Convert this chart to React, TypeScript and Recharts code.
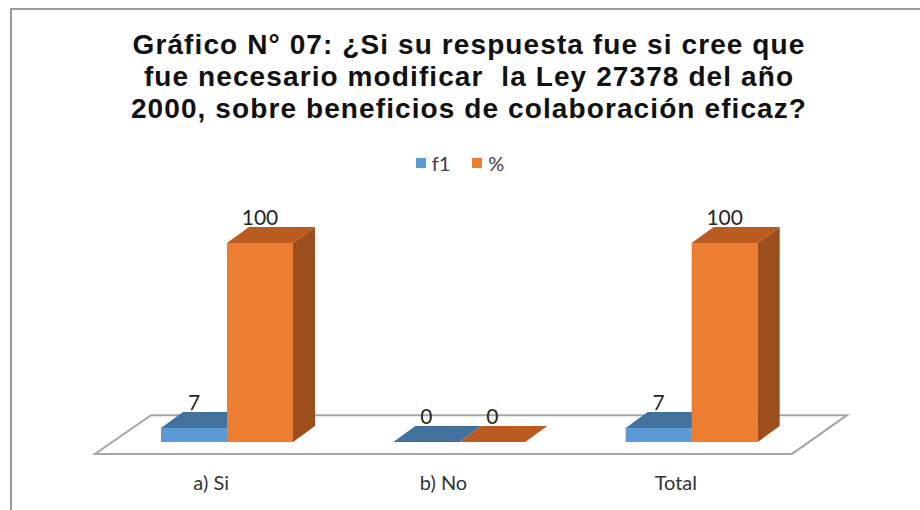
import React from 'react';
import { BarChart, Bar, XAxis, YAxis, Legend, LabelList, ReferenceArea } from 'recharts';

const categories = ['a) Si', 'b) No', 'Total'];
const f1Values = [7, 0, 7];
const pctValues = [100, 0, 100];
const seriesOrder = ['f1', '%'];

const data = categories.map((name, i) => ({ name, f1: f1Values[i], pct: pctValues[i] }));

// 3d depth of each box
const DX = 22;
const DY = 16;

const makeBox = (front: string, top: string, side: string) => (props: any) => {
  const { x, y, width, height } = props;
  if (x == null || y == null) return null;
  const h = Math.max(0, height || 0);
  const topFace = `M${x},${y} L${x + DX},${y - DY} L${x + width + DX},${y - DY} L${x + width},${y} Z`;
  if (h < 0.5) {
    return <path d={topFace} fill={top} />;
  }
  const sideFace = `M${x + width},${y} L${x + width + DX},${y - DY} L${x + width + DX},${y + h - DY} L${x + width},${y + h} Z`;
  return (
    <g>
      <rect x={x} y={y} width={width} height={h} fill={front} />
      <path d={sideFace} fill={side} />
      <path d={topFace} fill={top} />
    </g>
  );
};

const BlueBox = makeBox('#5B9BD5', '#41719C', '#3A6690');
const OrangeBox = makeBox('#ED7D31', '#BA5C1F', '#9C4E1C');

const renderValue = (props: any) => {
  const { x, y, width, value } = props;
  return (
    <text x={x + width / 2} y={y - DY - 2} textAnchor="middle" fontFamily="Lato" fontSize={21} fill="#262626">
      {value}
    </text>
  );
};

const Floor = (props: any) => {
  const { x, y, width, height } = props;
  const fl = x - 16;
  const fr = x + width - 16;
  const bl = x + 40;
  const br = x + width + 39;
  const by = y;
  const fy = y + height;
  return (
    <path
      d={`M${fl},${fy} L${fr},${fy} L${br},${by} L${bl},${by} Z`}
      fill="#ffffff"
      stroke="#A6A6A6"
      strokeWidth={2}
    />
  );
};

const CategoryTick = (props: any) => {
  const { x, y, payload } = props;
  return (
    <text x={x - 16} y={y + 40} textAnchor="middle" fontFamily="Lato" fontSize={20} fill="#333333">
      {payload.value}
    </text>
  );
};

const renderLegend = (props: any) => {
  const payload = [...(props.payload || [])].sort(
    (a: any, b: any) => seriesOrder.indexOf(a.value) - seriesOrder.indexOf(b.value)
  );
  return (
    <div style={{ display: 'flex', justifyContent: 'center', alignItems: 'center', height: 22 }}>
      {payload.map((entry: any, i: number) => (
        <div key={i} style={{ display: 'flex', alignItems: 'center', marginRight: i === payload.length - 1 ? 0 : 22 }}>
          <span style={{ width: 10, height: 10, background: entry.color, display: 'inline-block', marginRight: 6 }} />
          <span style={{ fontFamily: 'Lato', fontSize: 20, color: '#404040' }}>{entry.value}</span>
        </div>
      ))}
    </div>
  );
};

export default function App() {
  return (
    <div style={{ position: 'absolute', left: 0, top: 0, width: 920, height: 510, background: '#fff', overflow: 'hidden' }}>
      <div
        style={{
          position: 'absolute',
          left: 10,
          top: 8,
          width: 930,
          height: 520,
          borderTop: '2px solid #9a9a9a',
          borderLeft: '2px solid #9a9a9a',
        }}
      />
      <div
        style={{
          position: 'absolute',
          left: 0,
          top: 29,
          width: 938,
          textAlign: 'center',
          fontFamily: '"Liberation Sans", Arial, sans-serif',
          fontWeight: 'bold',
          fontSize: 28,
          letterSpacing: 1.1,
          lineHeight: '32px',
          color: '#111111',
        }}
      >
        Gráfico N° 07: ¿Si su respuesta fue si cree que
        <br />
        fue necesario modificar&nbsp; la Ley 27378 del año
        <br />
        2000, sobre beneficios de colaboración eficaz?
      </div>
      <div style={{ position: 'absolute', left: 0, top: 0 }}>
        <BarChart
          width={920}
          height={510}
          data={data}
          margin={{ top: 243, right: 112, left: 111, bottom: 38 }}
          barGap={0}
          barSize={66}
        >
          <ReferenceArea y1={-6} y2={13.5} ifOverflow="visible" shape={<Floor />} />
          <XAxis dataKey="name" height={30} axisLine={false} tickLine={false} tick={<CategoryTick />} interval={0} />
          <YAxis hide domain={[0, 100]} />
          <Legend
            layout="horizontal"
            verticalAlign="middle"
            align="center"
            wrapperStyle={{ top: 152, left: 0, width: 920 }}
            content={renderLegend}
          />
          <Bar dataKey="f1" name="f1" fill="#5B9BD5" shape={BlueBox} isAnimationActive={false}>
            <LabelList dataKey="f1" content={renderValue} />
          </Bar>
          <Bar dataKey="pct" name="%" fill="#ED7D31" shape={OrangeBox} isAnimationActive={false}>
            <LabelList dataKey="pct" content={renderValue} />
          </Bar>
        </BarChart>
      </div>
    </div>
  );
}
